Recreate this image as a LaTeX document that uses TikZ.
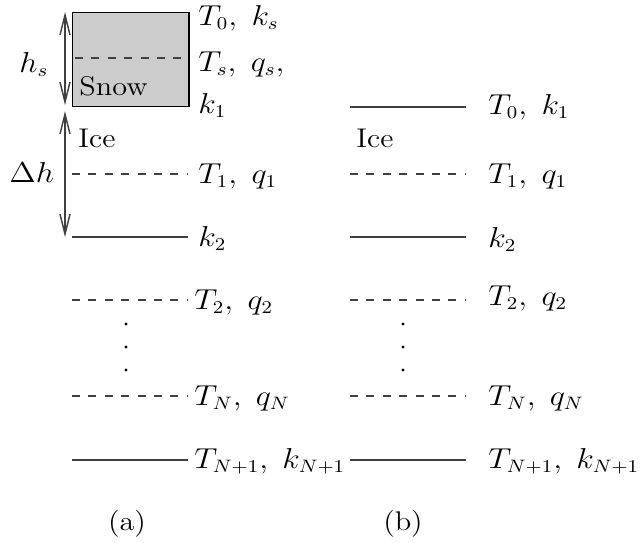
\documentclass[tikz,border=0pt]{standalone}
\usepackage{amsmath}
\usetikzlibrary{arrows.meta, positioning}

\begin{document}
\begin{tikzpicture}[
    x=0.5pt, y=-0.5pt,
    layer/.style={line width=0.7pt, draw=black!75},
    interface/.style={layer, dash pattern=on 4pt off 4.2pt},
    lab/.style={anchor=base west, inner sep=0pt, font=\fontsize{13.5}{16}\selectfont, xscale=1.12, transform shape},
    dim/.style={{Straight Barb[length=10pt,width=5pt]}-{Straight Barb[length=10pt,width=5pt]}, line width=0.7pt, draw=black!75}
]
    \useasboundingbox (0,0) rectangle (641,542);

    % (a) snow on ice
    \draw[line width=0.8pt, fill=black!20] (72.5,12.5) rectangle (189,106.5);
    \draw[interface] (75,58) -- (186,58);
    \node[lab] (snow) at (79,95) {Snow};
    \node[lab] (icea) at (78,147) {Ice};
    \draw[interface] (72,174) -- (188,174);
    \draw[layer] (72,237) -- (188,237);
    \draw[interface] (72,300) -- (188,300);
    \draw[interface] (72,396) -- (188,396);
    \draw[layer] (72,460) -- (188,460);

    \coordinate (hstop) at (65,12);
    \coordinate (hsbot) at (65,105);
    \coordinate (dhtop) at (65,111);
    \coordinate (dhbot) at (65,237);
    \draw[dim] (hstop) -- (hsbot);
    \draw[dim] (dhtop) -- (dhbot);
    \node[lab] (hs) at (19,72) {$h_s$};
    \node[lab] (dh) at (9,182) {$\Delta h$};

    \node[lab] (a0) at (198,25) {$T_0,\;k_s$};
    \node[lab] (as) at (198,71) {$T_s,\;q_s,$};
    \node[lab] (a1) at (198,113) {$k_1$};
    \node[lab] (aq1) at (198,183) {$T_1,\;q_1$};
    \node[lab] (a2) at (198,246) {$k_2$};
    \node[lab] (aq2) at (194,309) {$T_2,\;q_2$};
    \node[lab] (aqN) at (194,405) {$T_N,\;q_N$};
    \node[lab] (aN1) at (194,468) {$T_{N+1},\;k_{N+1}$};

    % (b) bare ice
    \draw[layer] (350,107) -- (466,107);
    \node[lab] (iceb) at (356,147) {Ice};
    \draw[interface] (350,174) -- (466,174);
    \draw[layer] (350,237) -- (466,237);
    \draw[interface] (350,300) -- (466,300);
    \draw[interface] (350,396) -- (466,396);
    \draw[layer] (350,460) -- (466,460);

    \node[lab] (b0) at (488,114) {$T_0,\;k_1$};
    \node[lab] (bq1) at (488,183) {$T_1,\;q_1$};
    \node[lab] (b2) at (488,247) {$k_2$};
    \node[lab] (bq2) at (488,305) {$T_2,\;q_2$};
    \node[lab] (bqN) at (488,405) {$T_N,\;q_N$};
    \node[lab] (bN1) at (488,468) {$T_{N+1},\;k_{N+1}$};

    \foreach \y in {324,347,370} {
        \fill (126,\y) circle (0.8pt);
        \fill (403,\y) circle (0.8pt);
    }

    \node[lab, anchor=base] (capa) at (127,530) {(a)};
    \node[lab, anchor=base] (capb) at (403,530) {(b)};
\end{tikzpicture}
\end{document}
